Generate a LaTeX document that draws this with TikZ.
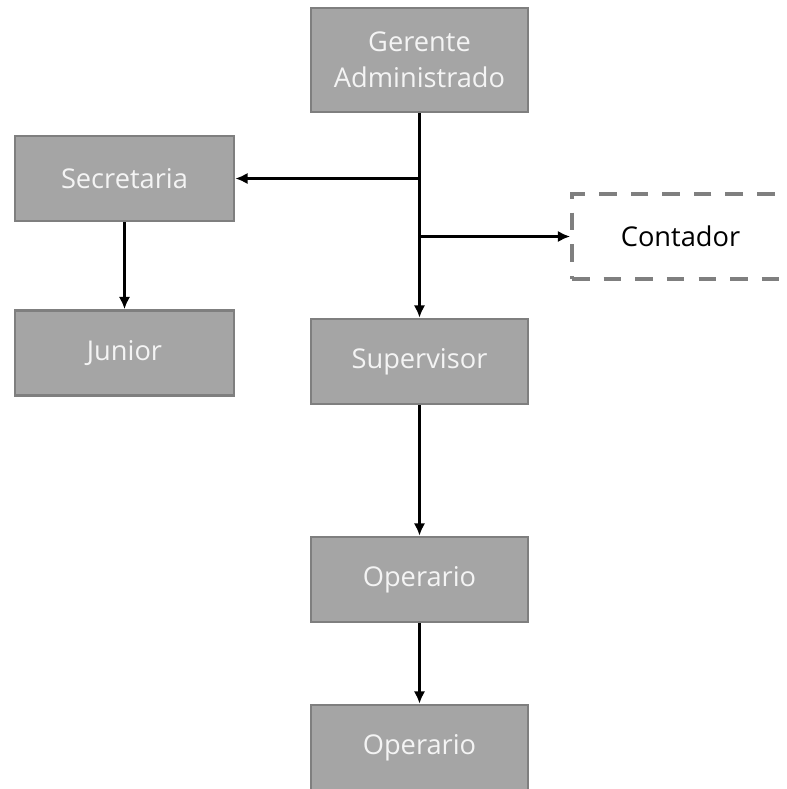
\documentclass[tikz,border=0pt]{standalone}
\usepackage{fontspec}
\setmainfont{Open Sans}
\usepackage{tikz}
\usetikzlibrary{arrows.meta,calc}
\definecolor{cajagris}{HTML}{A5A5A5}
\definecolor{bordegris}{HTML}{7F7F7F}
\definecolor{textoblanco}{HTML}{F4F4F4}

\begin{document}
\begin{tikzpicture}[
  caja/.style={draw=bordegris, line width=1.6pt, fill=cajagris, text=textoblanco,
    minimum width=4.34cm, minimum height=1.7cm, align=center, font=\fontsize{15.5}{20.5}\selectfont},
  cajapunteada/.style={draw=bordegris, line width=2.2pt, dash pattern=on 10pt off 8pt, fill=white,
    minimum width=4.34cm, minimum height=1.7cm, align=center, font=\fontsize{15.5}{20.5}\selectfont},
  flecha/.style={-{Latex[length=7pt,width=6.5pt]}, line width=1.3pt, black}
]
\useasboundingbox (0,0) rectangle (15.72,-15.78);
\node[caja, minimum height=2.08cm] (gerente) at (8.39,-1.2) {Gerente\\Administrado};
\node[caja, minimum width=4.38cm] (secretaria) at (2.49,-3.57) {Secretaria};
\node[caja, minimum width=4.38cm] (junior) at (2.49,-7.06) {Junior};
\node[cajapunteada] (contador) at (13.61,-4.73) {Contador};
\node[caja] (supervisor) at (8.39,-7.23) {Supervisor};
\node[caja] (operario1) at (8.39,-11.59) {Operario};
\node[caja] (operario2) at (8.39,-14.95) {Operario};

\coordinate (rama1) at (gerente.south |- secretaria.east);
\coordinate (rama2) at (gerente.south |- contador.west);
\draw[flecha] (gerente.south) -- (supervisor.north);
\draw[flecha] (rama1) -- (secretaria.east);
\draw[flecha] (rama2) -- (contador.west);
\draw[flecha] (secretaria.south) -- (junior.north);
\draw[flecha] (supervisor.south) -- (operario1.north);
\draw[flecha] (operario1.south) -- (operario2.north);
\end{tikzpicture}
\end{document}
